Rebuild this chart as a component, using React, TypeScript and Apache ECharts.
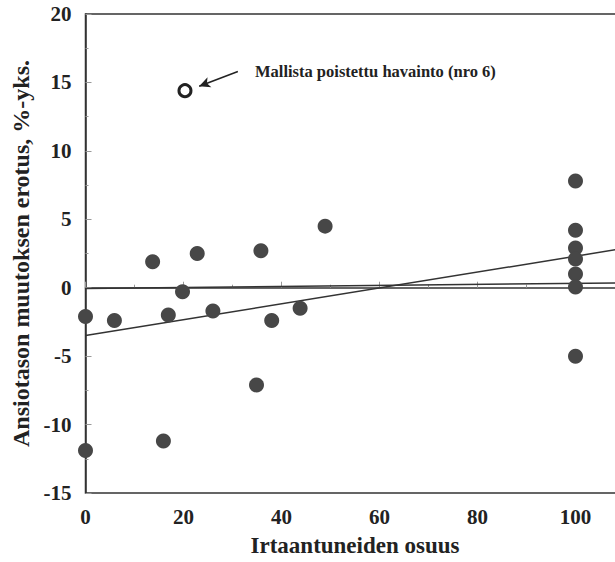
import React, { useEffect, useRef } from "react";
import * as echarts from "echarts";

const xValues = [0, 0, 5.9, 13.7, 15.9, 16.9, 19.8, 22.8, 26.0, 34.9, 35.8, 38.0, 43.8, 48.9, 100, 100, 100, 100, 100, 100, 100];
const yValues = [-2.1, -11.9, -2.4, 1.9, -11.2, -2.0, -0.3, 2.5, -1.7, -7.1, 2.7, -2.4, -1.5, 4.5, 7.8, 4.2, 2.9, 2.1, 1.0, 0.05, -5.0];
const removedPoint = [20.3, 14.4];
const regressionLine = [[0, -3.5], [110, 2.88]];
const zeroLine = [[0, -0.05], [110, 0.35]];
const arrowFrom = [31.1, 15.8];
const arrowTo = [23.2, 14.72];
const annotationText = "Mallista poistettu havainto (nro 6)";
const xTitle = "Irtaantuneiden osuus";
const yTitle = "Ansiotason muutoksen erotus, %-yks.";

const FONT = '"Liberation Serif", "Times New Roman", serif';

export default function App() {
  const ref = useRef<HTMLDivElement>(null);
  useEffect(() => {
    if (!ref.current) return;
    const chart = echarts.init(ref.current, undefined, { renderer: "svg" });
    const points = xValues.map((x, i) => [x, yValues[i]]);
    chart.setOption({
      animation: false,
      backgroundColor: "#ffffff",
      grid: {
        left: 85.5,
        right: 15.5,
        top: 14,
        bottom: 64,
        show: true,
        borderColor: "#333",
        borderWidth: 1.5,
        backgroundColor: "transparent",
      },
      xAxis: {
        type: "value",
        min: 0,
        max: 110,
        interval: 20,
        name: xTitle,
        nameLocation: "middle",
        nameGap: 41,
        nameTextStyle: { fontFamily: FONT, fontWeight: "bold", fontSize: 23, color: "#222" },
        axisLine: { show: true, lineStyle: { color: "#333", width: 1.5 } },
        axisTick: { show: true, inside: true, length: 6, lineStyle: { color: "#999" } },
        minorTick: { show: true, splitNumber: 2, length: 3, lineStyle: { color: "#999" } },
        splitLine: { show: false },
        axisLabel: {
          showMaxLabel: false,
          margin: 13,
          fontFamily: FONT,
          fontWeight: "bold",
          fontSize: 21,
          color: "#222",
        },
      },
      yAxis: {
        type: "value",
        min: -15,
        max: 20,
        interval: 5,
        name: yTitle,
        nameLocation: "middle",
        nameGap: 50,
        nameTextStyle: { fontFamily: FONT, fontWeight: "bold", fontSize: 24, color: "#222" },
        axisLine: { show: true, lineStyle: { color: "#333", width: 1.5 } },
        axisTick: { show: true, inside: true, length: 6, lineStyle: { color: "#999" } },
        minorTick: { show: true, splitNumber: 2, length: 3, lineStyle: { color: "#999" } },
        splitLine: { show: false },
        axisLabel: {
          margin: 14,
          padding: [8, 0, 0, 0],
          fontFamily: FONT,
          fontWeight: "bold",
          fontSize: 21,
          color: "#222",
        },
      },
      series: [
        {
          type: "line",
          data: zeroLine,
          symbol: "none",
          lineStyle: { color: "#333", width: 1.5 },
          z: 1,
        },
        {
          type: "line",
          data: regressionLine,
          symbol: "none",
          lineStyle: { color: "#333", width: 1.5 },
          z: 1,
        },
        {
          type: "scatter",
          data: points,
          symbol: "circle",
          symbolSize: 15,
          itemStyle: { color: "#474747", opacity: 1 },
          z: 3,
        },
        {
          type: "scatter",
          data: [removedPoint],
          symbol: "circle",
          symbolSize: 12,
          itemStyle: { color: "#fff", borderColor: "#222", borderWidth: 3, opacity: 1 },
          z: 3,
          markLine: {
            silent: true,
            symbol: ["none", "arrow"],
            symbolSize: [8, 11],
            label: { show: false },
            lineStyle: { color: "#222", width: 1.5, type: "solid" },
            data: [[{ coord: arrowFrom }, { coord: arrowTo }]],
          },
        },
      ],
      graphic: [
        {
          type: "text",
          x: 255,
          y: 71,
          style: {
            text: annotationText,
            font: `bold 16.5px ${FONT}`,
            fill: "#222",
            verticalAlign: "middle",
            align: "left",
          },
        },
      ],
    });
    return () => chart.dispose();
  }, []);
  return (
    <div style={{ position: "fixed", left: 0, top: 0, width: 615, height: 562, overflow: "hidden", background: "#fff" }}>
      <div ref={ref} style={{ width: 640, height: 562 }} />
    </div>
  );
}
